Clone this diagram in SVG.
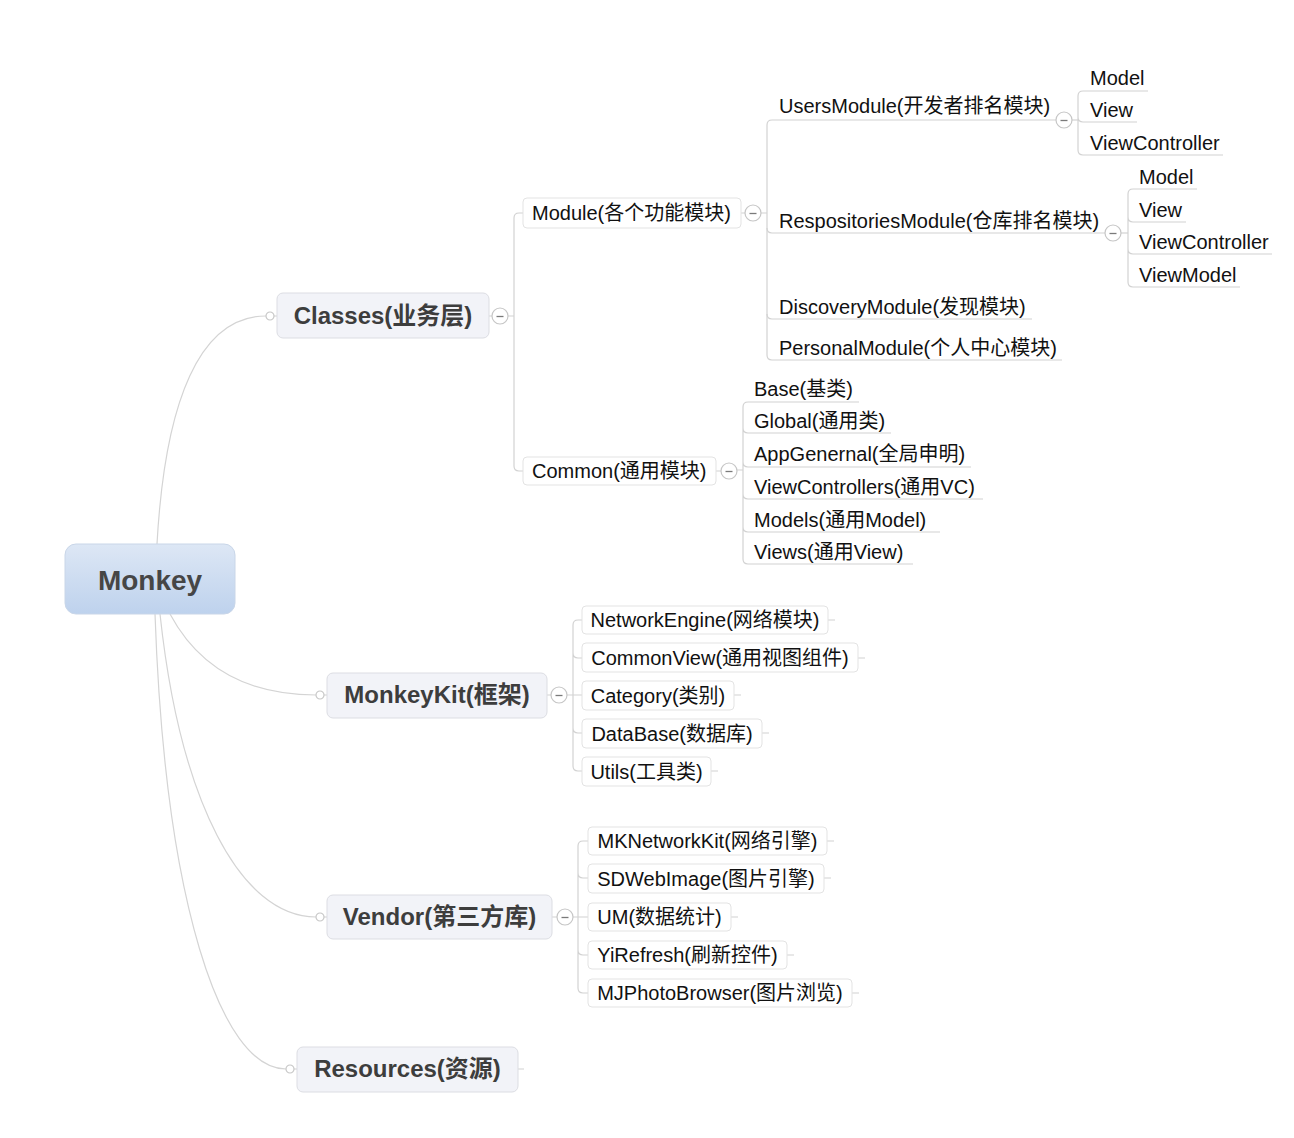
<svg xmlns="http://www.w3.org/2000/svg" xmlns:xlink="http://www.w3.org/1999/xlink" width="1294" height="1138" viewBox="0 0 1294 1138">
<style>
.ln{fill:none;stroke:#d2d2d2;stroke-width:1.2}
.cv{fill:none;stroke:#d4d4d4;stroke-width:1.2}
text{font-family:"Liberation Sans","Noto Sans CJK SC",sans-serif}
.sub{font-size:20px;fill:#111}
.topic{font-size:24px;font-weight:bold;fill:#3d3d3d;text-anchor:middle}
.root{font-size:28px;font-weight:bold;fill:#464646;text-anchor:middle}
.mid{text-anchor:middle}
.tbox{fill:#f2f3f8;stroke:#dcdde3;stroke-width:1}
.cbox{fill:#fff;stroke:#e3e3e3;stroke-width:1}
.dot{fill:#fff;stroke:#c8c8c8;stroke-width:1.2}
</style>
<defs>
<linearGradient id="rg" x1="0" y1="0" x2="0" y2="1">
<stop offset="0" stop-color="#dde7f5"/>
<stop offset="1" stop-color="#bed2ed"/>
</linearGradient>
<g id="col"><circle r="8" fill="#fff" stroke="#c6c6c6" stroke-width="1.2"/><path d="M-3.5,0.5H3.5" stroke="#7a7a7a" stroke-width="1.3"/></g>
<circle id="dt" r="4" class="dot"/>
</defs>
<rect width="1294" height="1138" fill="#fff"/>

<g id="connectors">
<path class="cv" d="M157,544 C165,400 200,316 266,316"/>
<path class="cv" d="M170,614 C200,670 250,695 316,695"/>
<path class="cv" d="M160,614 C180,800 240,917 316,917"/>
<path class="cv" d="M155,614 C165,900 220,1069 286,1069"/>
<!-- Classes -->
<path class="ln" d="M274,316H277 M489,316H492 M508,316H514"/>
<path class="ln" d="M523,213H519Q514,213 514,218V466Q514,471 519,471H523"/>
<!-- Module -->
<path class="ln" d="M741,213H745 M761,213H767"/>
<path class="ln" d="M1056,120H772Q767,120 767,125V355Q767,360 772,360H1062"/>
<path class="ln" d="M767,228Q767,233 772,233H1105 M767,314Q767,319 772,319H1032"/>
<!-- Users children -->
<path class="ln" d="M1072,120H1078"/>
<path class="ln" d="M1148,91H1083Q1078,91 1078,96V150Q1078,155 1083,155H1223 M1078,117Q1078,122 1083,122H1137"/>
<!-- Respositories children -->
<path class="ln" d="M1121,233H1128"/>
<path class="ln" d="M1197,189H1133Q1128,189 1128,194V282Q1128,287 1133,287H1240 M1128,217Q1128,222 1133,222H1186 M1128,249Q1128,254 1133,254H1272"/>
<!-- Common -->
<path class="ln" d="M716,471H721 M737,470H743"/>
<path class="ln" d="M859,402H748Q743,402 743,407V559Q743,564 748,564H913 M743,428Q743,433 748,433H891 M743,462Q743,467 748,467H971 M743,494Q743,499 748,499H983 M743,527Q743,532 748,532H940"/>
<!-- MonkeyKit -->
<path class="ln" d="M324,695H327 M547,695H551 M567,695H582"/>
<path class="ln" d="M582,620H578Q573,620 573,625V766Q573,771 578,771H582 M573,653Q573,658 578,658H582 M573,728Q573,733 578,733H582"/>
<path class="ln" d="M828,620H835 M858,658H865 M734,695H741 M762,733H769 M711,771H718"/>
<!-- Vendor -->
<path class="ln" d="M324,917H327 M552,917H557 M573,917H588"/>
<path class="ln" d="M588,841H583Q578,841 578,846V988Q578,993 583,993H588 M578,873Q578,878 583,878H588 M578,950Q578,955 583,955H588"/>
<path class="ln" d="M827,841H834 M824,878H831 M731,917H738 M787,955H794 M852,993H859"/>
<!-- Resources -->
<path class="ln" d="M294,1069H297 M518,1069H524"/>
</g>

<g id="monkey">
<rect x="65" y="544" width="170" height="70" rx="11" fill="url(#rg)" stroke="#c9d6e8"/>
<text class="root" x="150" y="590">Monkey</text>
</g>

<g id="classes">
<use xlink:href="#dt" x="270" y="316"/>
<rect class="tbox" x="277" y="293" width="212" height="45" rx="6"/>
<text class="topic" x="383" y="324">Classes(业务层)</text>
<use xlink:href="#col" x="500" y="316"/>
</g>

<g id="module">
<rect class="cbox" x="523" y="198" width="218" height="30" rx="4"/>
<text class="sub" x="532" y="220">Module(各个功能模块)</text>
<use xlink:href="#col" x="753" y="213"/>
</g>

<g id="usersmodule">
<text class="sub" x="779" y="113">UsersModule(开发者排名模块)</text>
<use xlink:href="#col" x="1064" y="120"/>
</g>
<g id="users-model"><text class="sub" x="1090" y="85">Model</text></g>
<g id="users-view"><text class="sub" x="1090" y="117">View</text></g>
<g id="users-vc"><text class="sub" x="1090" y="150">ViewController</text></g>

<g id="repomodule">
<text class="sub" x="779" y="228">RespositoriesModule(仓库排名模块)</text>
<use xlink:href="#col" x="1113" y="233"/>
</g>
<g id="repo-model"><text class="sub" x="1139" y="184">Model</text></g>
<g id="repo-view"><text class="sub" x="1139" y="217">View</text></g>
<g id="repo-vc"><text class="sub" x="1139" y="249">ViewController</text></g>
<g id="repo-vm"><text class="sub" x="1139" y="282">ViewModel</text></g>

<g id="discovery"><text class="sub" x="779" y="314">DiscoveryModule(发现模块)</text></g>
<g id="personal"><text class="sub" x="779" y="355">PersonalModule(个人中心模块)</text></g>

<g id="common">
<rect class="cbox" x="523" y="457" width="193" height="28" rx="4"/>
<text class="sub" x="532" y="478">Common(通用模块)</text>
<use xlink:href="#col" x="729" y="471"/>
</g>
<g id="c-base"><text class="sub" x="754" y="396">Base(基类)</text></g>
<g id="c-global"><text class="sub" x="754" y="428">Global(通用类)</text></g>
<g id="c-app"><text class="sub" x="754" y="461">AppGenernal(全局申明)</text></g>
<g id="c-vcs"><text class="sub" x="754" y="494">ViewControllers(通用VC)</text></g>
<g id="c-models"><text class="sub" x="754" y="527">Models(通用Model)</text></g>
<g id="c-views"><text class="sub" x="754" y="559">Views(通用View)</text></g>

<g id="monkeykit">
<use xlink:href="#dt" x="320" y="695"/>
<rect class="tbox" x="327" y="673" width="220" height="45" rx="6"/>
<text class="topic" x="437" y="703">MonkeyKit(框架)</text>
<use xlink:href="#col" x="559" y="695"/>
</g>
<g id="mk-network"><rect class="cbox" x="582" y="606" width="246" height="28" rx="4"/><text class="sub mid" x="705" y="627">NetworkEngine(网络模块)</text></g>
<g id="mk-commonview"><rect class="cbox" x="582" y="643" width="276" height="29" rx="4"/><text class="sub mid" x="720" y="665">CommonView(通用视图组件)</text></g>
<g id="mk-category"><rect class="cbox" x="582" y="681" width="152" height="29" rx="4"/><text class="sub mid" x="658" y="703">Category(类别)</text></g>
<g id="mk-database"><rect class="cbox" x="582" y="719" width="180" height="29" rx="4"/><text class="sub mid" x="672" y="741">DataBase(数据库)</text></g>
<g id="mk-utils"><rect class="cbox" x="582" y="757" width="129" height="29" rx="4"/><text class="sub mid" x="646.5" y="779">Utils(工具类)</text></g>

<g id="vendor">
<use xlink:href="#dt" x="320" y="917"/>
<rect class="tbox" x="327" y="895" width="225" height="44" rx="6"/>
<text class="topic" x="439.5" y="925">Vendor(第三方库)</text>
<use xlink:href="#col" x="565" y="917"/>
</g>
<g id="v-mk"><rect class="cbox" x="588" y="827" width="239" height="28" rx="4"/><text class="sub mid" x="707.5" y="848">MKNetworkKit(网络引擎)</text></g>
<g id="v-sd"><rect class="cbox" x="588" y="864" width="236" height="29" rx="4"/><text class="sub mid" x="706" y="886">SDWebImage(图片引擎)</text></g>
<g id="v-um"><rect class="cbox" x="588" y="903" width="143" height="28" rx="4"/><text class="sub mid" x="659.5" y="924">UM(数据统计)</text></g>
<g id="v-yi"><rect class="cbox" x="588" y="941" width="199" height="28" rx="4"/><text class="sub mid" x="687.5" y="962">YiRefresh(刷新控件)</text></g>
<g id="v-mj"><rect class="cbox" x="588" y="979" width="264" height="28" rx="4"/><text class="sub mid" x="720" y="1000">MJPhotoBrowser(图片浏览)</text></g>

<g id="resources">
<use xlink:href="#dt" x="290" y="1069"/>
<rect class="tbox" x="297" y="1047" width="221" height="45" rx="6"/>
<text class="topic" x="407.5" y="1077">Resources(资源)</text>
</g>
</svg>
